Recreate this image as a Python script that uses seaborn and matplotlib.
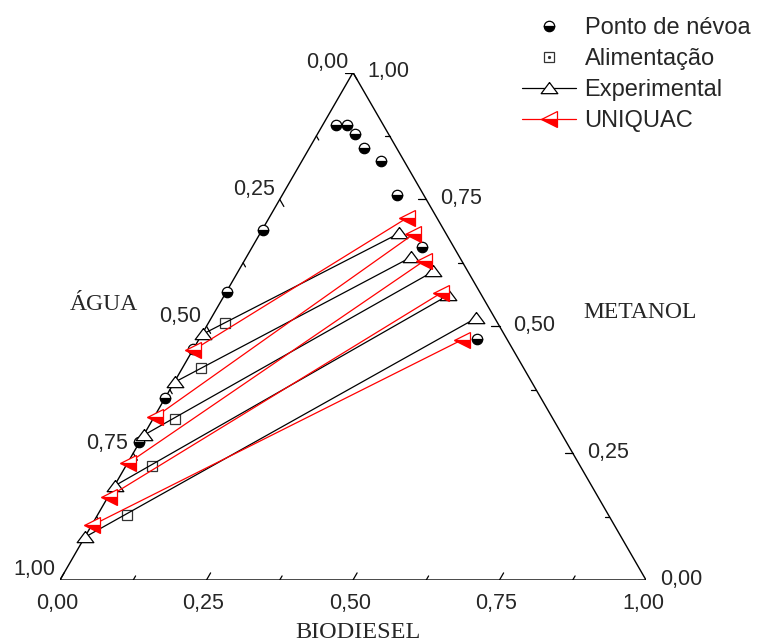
import numpy as np
import pandas as pd
import matplotlib
matplotlib.use("Agg")
import matplotlib.pyplot as plt
from matplotlib.lines import Line2D
from matplotlib.legend_handler import HandlerTuple
import seaborn as sns

# Ternary data as mass fractions: biodiesel (bottom axis), methanol (right axis);
# water = 1 - biodiesel - methanol (left axis).
cloud_biodiesel = [0.022, 0.041, 0.064, 0.093, 0.135, 0.195, 0.289, 0.474,
                   0.002, 0.001, 0.000, 0.000, 0.000]
cloud_methanol = [0.897, 0.897, 0.879, 0.852, 0.826, 0.759, 0.657, 0.474,
                  0.690, 0.567, 0.455, 0.358, 0.271]

feed_biodiesel = [0.028, 0.032, 0.038, 0.044, 0.051]
feed_methanol = [0.507, 0.418, 0.317, 0.225, 0.128]

exp_left_biodiesel = [0.002, 0.001, 0.001, 0.001, 0.001]
exp_left_methanol = [0.485, 0.390, 0.286, 0.186, 0.085]
exp_right_biodiesel = [0.237, 0.281, 0.333, 0.382, 0.452]
exp_right_methanol = [0.683, 0.636, 0.608, 0.561, 0.516]

uniquac_left_biodiesel = [0.001, 0.002, 0.001, 0.001, 0.001]
uniquac_left_methanol = [0.453, 0.321, 0.230, 0.164, 0.108]
uniquac_right_biodiesel = [0.235, 0.262, 0.307, 0.367, 0.449]
uniquac_right_methanol = [0.713, 0.681, 0.629, 0.565, 0.473]

tick_values = [0.0, 0.125, 0.25, 0.375, 0.5, 0.625, 0.75, 0.875, 1.0]
legend_labels = ["Ponto de névoa", "Alimentação", "Experimental", "UNIQUAC"]

H = np.sqrt(3) / 2


def to_xy(b, m):
    b = np.asarray(b, dtype=float)
    m = np.asarray(m, dtype=float)
    return b + m / 2, m * H


def tie_frame(lb, lm, rb, rm):
    rows = []
    for i, (b1, m1, b2, m2) in enumerate(zip(lb, lm, rb, rm)):
        for b, m in ((b1, m1), (b2, m2)):
            x, y = to_xy(b, m)
            rows.append({"tie": i, "x": float(x), "y": float(y)})
    return pd.DataFrame(rows)


sns.set_style("white")
plt.rcParams["font.family"] = ["Liberation Sans", "DejaVu Sans"]

fig = plt.figure(figsize=(7.68, 6.44), dpi=100)
W, Hpx = 768, 644
side_px = 586
ax = fig.add_axes([60 / W, 64 / Hpx, side_px / W, side_px * H / Hpx])
ax.set_xlim(0, 1)
ax.set_ylim(0, H)
ax.axis("off")

# Triangle frame
frame = pd.DataFrame({"x": [0, 1, 0.5, 0], "y": [0, 0, H, 0]})
sns.lineplot(data=frame, x="x", y="y", sort=False, estimator=None,
             color="black", lw=1.0, ax=ax)

# Ticks on each side (pointing along the grid direction of that component)
segs = []
for v in tick_values:
    L = 0.014 if abs(v * 4 - round(v * 4)) < 1e-9 else 0.008
    # biodiesel (bottom)
    x0, y0 = v, 0.0
    segs.append((x0, y0, x0 + 0.5 * L, y0 + H * L))
    # methanol (right)
    x0, y0 = 1 - v / 2, v * H
    segs.append((x0, y0, x0 - L, y0))
    # water (left)
    x0, y0 = (1 - v) / 2, (1 - v) * H
    segs.append((x0, y0, x0 + 0.5 * L, y0 - H * L))
tick_df = pd.DataFrame(
    [{"seg": i, "x": s[0], "y": s[1]} for i, s in enumerate(segs)]
    + [{"seg": i, "x": s[2], "y": s[3]} for i, s in enumerate(segs)]
)
sns.lineplot(data=tick_df, x="x", y="y", units="seg", sort=False,
             estimator=None, color="black", lw=0.9, ax=ax)


# Tick labels
def fmt(v):
    return f"{v:.2f}".replace(".", ",")


for v in [0.0, 0.25, 0.5, 0.75, 1.0]:
    ax.annotate(fmt(v), (v, 0), xytext=(-3, -23), textcoords="offset pixels",
                ha="center", va="center", fontsize=15.5)
    ax.annotate(fmt(v), (1 - v / 2, v * H), xytext=(14, 1),
                textcoords="offset pixels", ha="left", va="center",
                fontsize=15.5)
    ax.annotate(fmt(v), ((1 - v) / 2, (1 - v) * H), xytext=(-5, 10),
                textcoords="offset pixels", ha="right", va="center",
                fontsize=15.5)

# Axis titles
serif = ["Liberation Serif", "DejaVu Serif"]
fig.text(358 / W, 1 - 632 / Hpx, "BIODIESEL", family=serif, fontsize=17.5,
         ha="center", va="center")
fig.text(104 / W, 1 - 304 / Hpx, "ÁGUA", family=serif, fontsize=17,
         ha="center", va="center")
fig.text(640 / W, 1 - 312 / Hpx, "METANOL", family=serif, fontsize=17,
         ha="center", va="center")

# Marker shapes
tri_up = np.array([[0, 0.72], [-1, -0.62], [1, -0.62], [0, 0.72]])

# Cloud points
cx, cy = to_xy(cloud_biodiesel, cloud_methanol)
cloud_df = pd.DataFrame({"x": cx, "y": cy})
sns.lineplot(data=cloud_df, x="x", y="y", sort=False, estimator=None,
             linestyle="", marker="o", markersize=7.5, fillstyle="bottom",
             markerfacecolor="black", markerfacecoloralt="white",
             markeredgecolor="black", markeredgewidth=0.9, ax=ax)

# Feed compositions
fx, fy = to_xy(feed_biodiesel, feed_methanol)
feed_df = pd.DataFrame({"x": fx, "y": fy})
sns.lineplot(data=feed_df, x="x", y="y", sort=False, estimator=None,
             linestyle="", marker="s", markersize=7, markerfacecolor="white",
             markeredgecolor="#333333", markeredgewidth=0.9, ax=ax)

# Experimental tie lines
exp_df = tie_frame(exp_left_biodiesel, exp_left_methanol,
                   exp_right_biodiesel, exp_right_methanol)
sns.lineplot(data=exp_df, x="x", y="y", units="tie", sort=False,
             estimator=None, color="black", lw=0.9, marker=tri_up,
             markersize=12, markerfacecolor="white", markeredgecolor="black",
             markeredgewidth=0.9, ax=ax)

# UNIQUAC tie lines
uq_df = tie_frame(uniquac_left_biodiesel, uniquac_left_methanol,
                  uniquac_right_biodiesel, uniquac_right_methanol)
sns.lineplot(data=uq_df, x="x", y="y", units="tie", sort=False,
             estimator=None, color="red", lw=0.9, marker="<",
             markersize=11, fillstyle="bottom", markerfacecolor="red",
             markerfacecoloralt="white", markeredgecolor="red",
             markeredgewidth=0.9, ax=ax)

# Legend
h_cloud = Line2D([], [], linestyle="", marker="o", markersize=7.5,
                 fillstyle="bottom", markerfacecolor="black",
                 markerfacecoloralt="white", markeredgecolor="black",
                 markeredgewidth=0.9)
h_feed = (Line2D([], [], linestyle="", marker="s", markersize=7,
                 markerfacecolor="white", markeredgecolor="#333333",
                 markeredgewidth=0.9),
          Line2D([], [], linestyle="", marker="o", markersize=1.3,
                 color="#333333"))
h_exp = Line2D([], [], color="black", lw=0.9, marker=tri_up, markersize=12,
               markerfacecolor="white", markeredgecolor="black",
               markeredgewidth=0.9)
h_uq = Line2D([], [], color="red", lw=0.9, marker="<", markersize=11,
              fillstyle="bottom", markerfacecolor="red",
              markerfacecoloralt="white", markeredgecolor="red",
              markeredgewidth=0.9)
fig.legend([h_cloud, h_feed, h_exp, h_uq], legend_labels,
           handler_map={tuple: HandlerTuple(ndivide=1, pad=0)},
           loc="upper left", bbox_to_anchor=(522 / W, 1 - 17 / Hpx),
           frameon=False, borderpad=0, borderaxespad=0, handlelength=2.3,
           handletextpad=0.35, labelspacing=0.38, fontsize=17)

fig.savefig("out.png", dpi=100)
